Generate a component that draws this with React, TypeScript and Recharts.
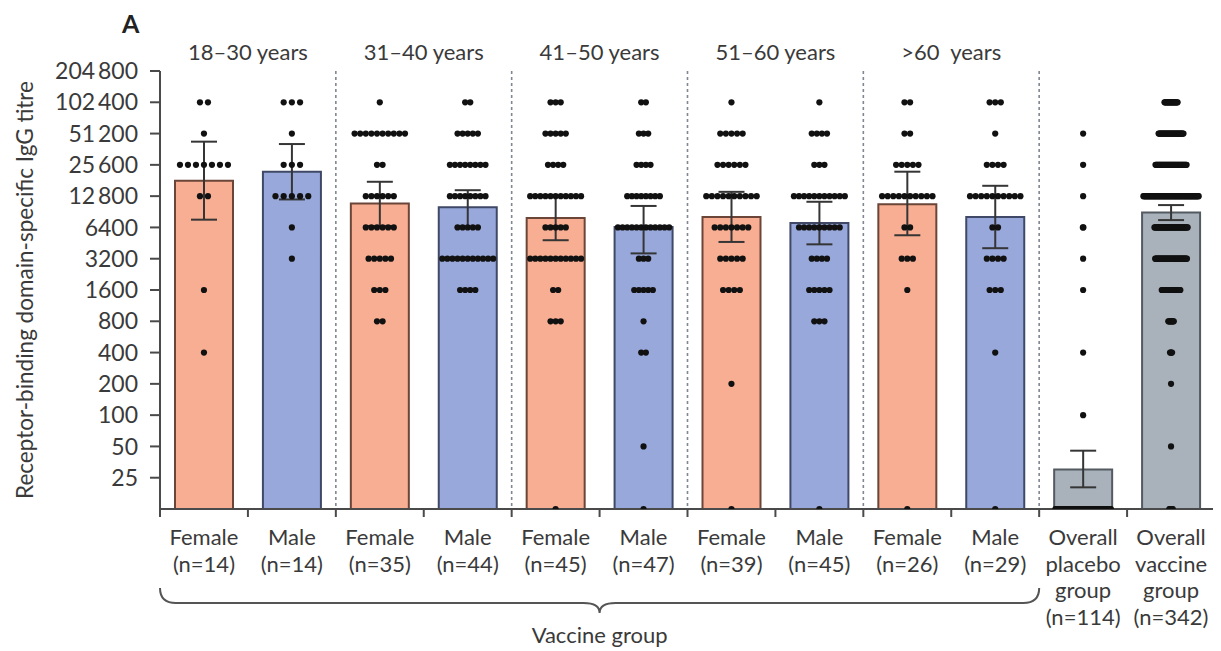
import React from 'react';
import {
  ComposedChart,
  Bar,
  Cell,
  ErrorBar,
  Scatter,
  XAxis,
  YAxis,
  ReferenceLine,
  Customized,
} from 'recharts';

// ---------- data ----------
const CAT_LABEL_LINES: string[][] = [
  ['Female', '(n=14)'],
  ['Male', '(n=14)'],
  ['Female', '(n=35)'],
  ['Male', '(n=44)'],
  ['Female', '(n=45)'],
  ['Male', '(n=47)'],
  ['Female', '(n=39)'],
  ['Male', '(n=45)'],
  ['Female', '(n=26)'],
  ['Male', '(n=29)'],
  ['Overall', 'placebo', 'group', '(n=114)'],
  ['Overall', 'vaccine', 'group', '(n=342)'],
];
const CAT_KIND = ['F', 'M', 'F', 'M', 'F', 'M', 'F', 'M', 'F', 'M', 'P', 'V'];
const GROUP_LABELS = ['18–30 years', '31–40 years', '41–50 years', '51–60 years', '>60\u00A0 years'];
const GROUP_CENTERS = [1, 3, 5, 7, 9];
const SEPARATORS = [2, 4, 6, 8, 10];

// geometric mean titre and 95% CI per category
const GMT = [18000, 22000, 10900, 10000, 7900, 6450, 8050, 7060, 10700, 8050, 30, 8900];
const CI_LOW = [7600, 11900, 6600, 6450, 4820, 3600, 4640, 4400, 5380, 4040, 20.2, 7530];
const CI_HIGH = [42800, 40600, 17600, 14600, 12700, 10300, 14080, 11300, 22000, 16100, 45.5, 10500];

// titre levels of individual participants (0 = below detection)
const LEVELS = [102400, 51200, 25600, 12800, 6400, 3200, 1600, 800, 400, 200, 100, 50, 0];
const COUNTS_F_18_30 = [2, 1, 7, 2, 0, 0, 1, 0, 1, 0, 0, 0, 0];
const COUNTS_M_18_30 = [3, 1, 3, 5, 1, 1, 0, 0, 0, 0, 0, 0, 0];
const COUNTS_F_31_40 = [1, 10, 2, 6, 6, 5, 3, 2, 0, 0, 0, 0, 0];
const COUNTS_M_31_40 = [2, 5, 8, 8, 5, 11, 4, 0, 0, 0, 0, 0, 0];
const COUNTS_F_41_50 = [3, 5, 4, 11, 5, 11, 2, 3, 0, 0, 0, 0, 1];
const COUNTS_M_41_50 = [2, 3, 4, 8, 12, 3, 5, 1, 2, 0, 0, 1, 1];
const COUNTS_F_51_60 = [1, 5, 6, 10, 7, 5, 4, 0, 0, 1, 0, 0, 1];
const COUNTS_M_51_60 = [1, 4, 3, 11, 9, 4, 5, 3, 0, 0, 0, 0, 1];
const COUNTS_F_60 = [2, 2, 5, 10, 2, 3, 1, 0, 0, 0, 0, 0, 1];
const COUNTS_M_60 = [3, 1, 4, 10, 2, 4, 3, 0, 1, 0, 0, 0, 1];
const COUNTS_PLACEBO = [0, 1, 1, 1, 2, 1, 1, 0, 1, 0, 1, 0, 105];

const VACCINE_SUBGROUPS = [
  COUNTS_F_18_30, COUNTS_M_18_30, COUNTS_F_31_40, COUNTS_M_31_40, COUNTS_F_41_50,
  COUNTS_M_41_50, COUNTS_F_51_60, COUNTS_M_51_60, COUNTS_F_60, COUNTS_M_60,
];
const COUNTS_VACCINE_ALL = LEVELS.map((_, li) => VACCINE_SUBGROUPS.reduce((s, a) => s + a[li], 0));
const ALL_COUNTS = [...VACCINE_SUBGROUPS, COUNTS_PLACEBO, COUNTS_VACCINE_ALL];

const Y_TICKS = [25, 50, 100, 200, 400, 800, 1600, 3200, 6400, 12800, 25600, 51200, 102400, 204800];
const Y_MIN = 12.5;
const Y_MAX = 204800;

// ---------- layout / style ----------
const W = 1213;
const H = 643;
const MARGIN = { top: 23, right: 6, bottom: 12, left: 0 };
const Y_AXIS_W = 152;
const TOP_AXIS_H = 40;
const BOTTOM_AXIS_H = 130;
const PLOT_LEFT = MARGIN.left + Y_AXIS_W;
const PLOT_W = W - MARGIN.right - PLOT_LEFT;
const BAND = PLOT_W / CAT_LABEL_LINES.length;

const FONT = 'Lato, "Open Sans", "DejaVu Sans", sans-serif';
const TEXT = '#3a3a3a';
const AXIS = '#4a4a4a';
const FILL: Record<string, string> = { F: '#F7AE92', M: '#98A8DA', P: '#A9B2BB', V: '#A9B2BB' };
const STROKE: Record<string, string> = { F: '#6a4538', M: '#3f4866', P: '#545a61', V: '#545a61' };

const MAX_STEP = 8.2 / BAND; // dot spacing (category units)
const ROW_SPAN = 56 / BAND;

const BAR_DATA = GMT.map((g, i) => ({
  cat: String(i),
  gmt: g,
  err: [g - CI_LOW[i], CI_HIGH[i] - g],
}));

const DOTS = ALL_COUNTS.flatMap((counts, ci) => {
  const maxC = Math.max(...counts);
  const step = Math.min(MAX_STEP, ROW_SPAN / maxC);
  return counts.flatMap((n, li) =>
    Array.from({ length: n }, (_, k) => ({
      x: ci + 0.5 + (k - (n - 1) / 2) * step,
      y: LEVELS[li] === 0 ? Y_MIN : LEVELS[li],
    })),
  );
});

const fmtTick = (v: number) =>
  v >= 10000 ? `${Math.floor(v / 1000)}\u2009${String(v % 1000).padStart(3, '0')}` : String(v);

const CatTick = (props: any) => {
  const { x, y, payload } = props;
  const i = Number(payload.value);
  const lines = CAT_LABEL_LINES[i] || [];
  const half = BAND / 2;
  return (
    <g>
      <line x1={x - half} y1={y} x2={x - half} y2={y + 8} stroke={AXIS} strokeWidth={2} />
      {i === CAT_LABEL_LINES.length - 1 && (
        <line x1={x + half} y1={y} x2={x + half} y2={y + 8} stroke={AXIS} strokeWidth={2} />
      )}
      <text x={x} y={y + 36} textAnchor="middle" fill={TEXT} fontSize={22} fontFamily={FONT}>
        {lines.map((l, k) => (
          <tspan key={k} x={x} dy={k === 0 ? 0 : 26.5}>
            {l}
          </tspan>
        ))}
      </text>
    </g>
  );
};

const Dot = (props: any) => {
  const { cx, cy } = props;
  if (cx == null || cy == null) return null;
  return <circle cx={cx} cy={cy} r={3.1} fill="#111" />;
};

const Overlay = () => {
  const L = PLOT_LEFT;
  const R = PLOT_LEFT + BAND * 10;
  const C = (L + R) / 2;
  const y0 = 580;
  const y1 = 595;
  const y2 = 605;
  const d = `M ${L} ${y0} Q ${L} ${y1} ${L + 16} ${y1} L ${C - 16} ${y1} Q ${C} ${y1} ${C} ${y2} Q ${C} ${y1} ${C + 16} ${y1} L ${R - 16} ${y1} Q ${R} ${y1} ${R} ${y0}`;
  return (
    <g>
      <text x={114} y={25} fontSize={25} fontWeight="bold" fill="#222" fontFamily={FONT}>
        A
      </text>
      <path d={d} fill="none" stroke="#555" strokeWidth={2} />
      <text x={C} y={635} textAnchor="middle" fontSize={22} fill={TEXT} fontFamily={FONT}>
        Vaccine group
      </text>
    </g>
  );
};

export default function App() {
  return (
    <ComposedChart
      width={W}
      height={H}
      data={BAR_DATA}
      margin={MARGIN}
      style={{ fontFamily: FONT, background: '#fff' }}
    >
      <XAxis
        xAxisId="cat"
        dataKey="cat"
        type="category"
        height={BOTTOM_AXIS_H}
        tickLine={false}
        tickSize={0}
        tickMargin={0}
        interval={0}
        axisLine={{ stroke: AXIS, strokeWidth: 2 }}
        tick={<CatTick />}
      />
      <XAxis
        xAxisId="num"
        orientation="top"
        type="number"
        dataKey="x"
        domain={[0, 12]}
        ticks={GROUP_CENTERS}
        interval={0}
        height={TOP_AXIS_H}
        axisLine={false}
        tickLine={false}
        tickSize={0}
        tickMargin={11}
        allowDataOverflow
        tickFormatter={(v: number) => GROUP_LABELS[GROUP_CENTERS.indexOf(v)] ?? ''}
        tick={{ fill: TEXT, fontSize: 22, fontFamily: FONT }}
      />
      <YAxis
        dataKey="y"
        scale="log"
        type="number"
        domain={[Y_MIN, Y_MAX]}
        ticks={Y_TICKS}
        interval={0}
        allowDataOverflow
        width={Y_AXIS_W}
        tickSize={10}
        tickMargin={12}
        tickFormatter={fmtTick}
        axisLine={{ stroke: AXIS, strokeWidth: 2 }}
        tickLine={{ stroke: AXIS, strokeWidth: 2 }}
        tick={{ fill: TEXT, fontSize: 23, fontFamily: FONT }}
        label={{
          value: 'Receptor-binding domain-specific IgG titre',
          angle: -90,
          position: 'insideLeft',
          offset: 17,
          style: { textAnchor: 'middle', fill: TEXT, fontSize: 22.5, fontFamily: FONT },
        }}
      />
      {SEPARATORS.map((s) => (
        <ReferenceLine
          key={s}
          xAxisId="num"
          x={s}
          stroke="#7f8791"
          strokeWidth={1.6}
          strokeDasharray="3 3"
        />
      ))}
      <Bar xAxisId="cat" dataKey="gmt" barSize={58} isAnimationActive={false} strokeWidth={2}>
        {BAR_DATA.map((_, i) => (
          <Cell key={i} fill={FILL[CAT_KIND[i]]} stroke={STROKE[CAT_KIND[i]]} />
        ))}
        <ErrorBar dataKey="err" width={13} stroke="#353535" strokeWidth={2} direction="y" />
      </Bar>
      <Scatter xAxisId="num" data={DOTS} shape={<Dot />} isAnimationActive={false} />
      <Customized component={<Overlay />} />
    </ComposedChart>
  );
}
